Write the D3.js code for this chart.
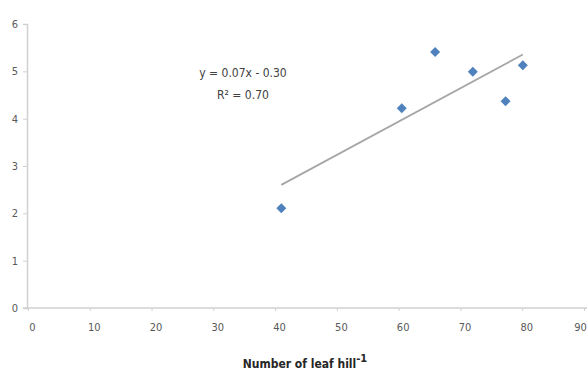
<!DOCTYPE html>
<html>
<head>
<meta charset="utf-8">
<script src="https://cdn.jsdelivr.net/npm/d3@7"></script>
<style>
  body { margin: 0; background: #fff; }
  text { font-family: "Liberation Sans Narrow", "DejaVu Sans Condensed", "Liberation Sans", sans-serif; }
</style>
</head>
<body>
<div id="chart"></div>
<script>
// Data.
const leafCount = [41, 60.5, 65.9, 72, 77.3, 80.1];
const yieldValue = [2.11, 4.22, 5.41, 4.99, 4.37, 5.13];
const xTicks = [0, 10, 20, 30, 40, 50, 60, 70, 80, 90];
const yTicks = [0, 1, 2, 3, 4, 5, 6];
const equationLines = ["y = 0.07x  - 0.30", "R\u00b2 = 0.70"];

const width = 587, height = 374;

const svg = d3.select("#chart").append("svg")
  .attr("width", width)
  .attr("height", height);

const x = d3.scaleLinear().domain([0, 90]).range([28, 584]);
const y = d3.scaleLinear().domain([0, 6]).range([308, 24]);

// Axes
const yAxis = svg.append("g")
  .attr("transform", `translate(${x(0) - 1},0)`)
  .call(d3.axisLeft(y).tickValues(yTicks).tickFormat(d3.format("d")).tickSize(4).tickPadding(5));

const xAxis = svg.append("g")
  .attr("transform", `translate(0,${y(0)})`)
  .call(d3.axisBottom(x).tickValues(xTicks).tickFormat(d3.format("d")).tickSize(3).tickPadding(12));

[xAxis, yAxis].forEach(a => {
  a.select(".domain").attr("stroke", "#d0d0d0").attr("stroke-width", 1.5);
  a.selectAll(".tick line").attr("stroke", "#d0d0d0");
  a.selectAll(".tick text").attr("fill", "#595959").attr("font-size", 11);
});
xAxis.select(".domain").attr("d", `M${x(0) - 5},0H${width}`);
// last label sits a little in from the edge, as in the original
xAxis.selectAll(".tick text").attr("dx", d => d === 90 ? -4 : 4);

// Linear trend (least squares)
const pts = leafCount.map((v, i) => [v, yieldValue[i]]);
const mx = d3.mean(leafCount), my = d3.mean(yieldValue);
const slope = d3.sum(pts, p => (p[0] - mx) * (p[1] - my)) / d3.sum(pts, p => (p[0] - mx) ** 2);
const icpt = my - slope * mx;
const [x0, x1] = d3.extent(leafCount);

svg.append("line")
  .attr("x1", x(x0)).attr("y1", y(slope * x0 + icpt))
  .attr("x2", x(x1)).attr("y2", y(slope * x1 + icpt))
  .attr("stroke", "#a6a6a6")
  .attr("stroke-width", 1.8);

// Diamond markers
svg.append("g")
  .selectAll("path")
  .data(pts)
  .join("path")
  .attr("transform", d => `translate(${x(d[0])},${y(d[1])}) rotate(45)`)
  .attr("d", d3.symbol(d3.symbolSquare, 50))
  .attr("fill", "#4f81bd");

// Equation label
svg.append("g")
  .selectAll("text")
  .data(equationLines)
  .join("text")
  .attr("x", 243)
  .attr("y", (d, i) => 77 + i * 22)
  .attr("text-anchor", "middle")
  .attr("font-size", 12)
  .attr("fill", "#404040")
  .text(d => d);

// Axis title
const title = svg.append("text")
  .attr("x", 305)
  .attr("y", 368)
  .attr("text-anchor", "middle")
  .attr("font-size", 12)
  .attr("font-weight", "bold")
  .attr("fill", "#262626");
title.append("tspan").text("Number of leaf hill");
title.append("tspan").attr("dy", -6).attr("font-size", 11).text("-1");
</script>
</body>
</html>
